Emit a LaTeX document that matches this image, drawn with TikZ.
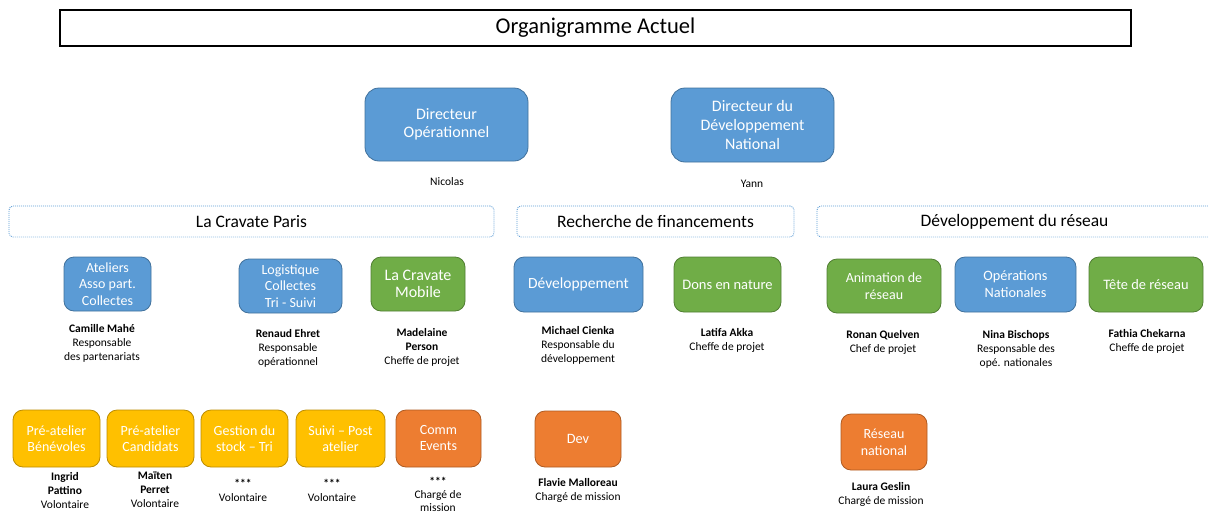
\documentclass[tikz,border=0pt]{standalone}
\usepackage{fontspec}
\setmainfont{Carlito}
\definecolor{cblue}{HTML}{5B9BD5}
\definecolor{cblueD}{HTML}{41719C}
\definecolor{cgreen}{HTML}{70AD47}
\definecolor{cgreenD}{HTML}{507E32}
\definecolor{cyel}{HTML}{FFC000}
\definecolor{cyelD}{HTML}{BC8C00}
\definecolor{corg}{HTML}{ED7D31}
\definecolor{corgD}{HTML}{AE5A21}
\tikzset{
  boxbase/.style={draw, line width=0.8pt, rounded corners=10pt, align=center, text=white, inner sep=1pt},
  bluebox/.style={boxbase, fill=cblue, draw=cblueD},
  greenbox/.style={boxbase, fill=cgreen, draw=cgreenD},
  yelbox/.style={boxbase, fill=cyel, draw=cyelD},
  orgbox/.style={boxbase, fill=corg, draw=corgD},
  capt/.style={align=center, text=black, inner sep=0pt, font=\fontsize{11.5}{14}\selectfont},
  grp/.style={draw=cblue, dash pattern=on 0.9pt off 1.1pt, line width=0.9pt, rounded corners=4pt, inner sep=0pt, font=\fontsize{17.5}{20}\selectfont},
}
\begin{document}
\begin{tikzpicture}[x=1pt,y=-1pt]
\useasboundingbox (0,0) rectangle (1208,512);
% title
\node[draw=black, line width=1.2pt, minimum width=1071, minimum height=36, inner sep=0pt, font=\fontsize{22.5}{25}\selectfont] (title) at (595.5,28) {Organigramme Actuel};
% directors
\node[bluebox, rounded corners=14pt, minimum width=163, minimum height=73, font=\fontsize{16}{18.5}\selectfont] (dirop) at (446.5,124.5) {Directeur\\Opérationnel};
\node[bluebox, rounded corners=14pt, minimum width=163, minimum height=74, font=\fontsize{16}{19}\selectfont] (dirdev) at (752.5,125) {Directeur du\\Développement\\National};
\node[capt] (nicolas) at (447,182) {Nicolas};
\node[capt] (yann) at (752,184) {Yann};
% groups
\node[grp, minimum width=485, minimum height=31] (gparis) at (251.5,221.5) {La Cravate Paris};
\node[grp, minimum width=277, minimum height=31] (gfin) at (655.5,221.5) {Recherche de financements};
\node[grp, minimum width=395, minimum height=31] (gres) at (1014.5,221.5) {Développement du réseau};
% row 2
\node[bluebox, minimum width=87, minimum height=54, font=\fontsize{14}{16.5}\selectfont] (ateliers) at (107.5,284) {Ateliers\\Asso part.\\Collectes};
\node[bluebox, minimum width=103, minimum height=54, font=\fontsize{14}{16.5}\selectfont] (logist) at (290.5,286) {Logistique\\Collectes\\Tri - Suivi};
\node[greenbox, minimum width=94, minimum height=54, font=\fontsize{16}{16.5}\selectfont] (mobile) at (418,284) {La Cravate\\Mobile};
\node[bluebox, minimum width=129, minimum height=55, font=\fontsize{15.5}{17}\selectfont] (devt) at (578.5,284.5) {Développement};
\node[greenbox, minimum width=107, minimum height=55, font=\fontsize{14.5}{17}\selectfont] (dons) at (727.5,284.5) {Dons en nature};
\node[greenbox, minimum width=114, minimum height=54, font=\fontsize{14}{16.5}\selectfont] (anim) at (884,286) {Animation de\\réseau};
\node[bluebox, minimum width=121, minimum height=55, font=\fontsize{14.3}{17}\selectfont] (opnat) at (1015.5,284.5) {Opérations\\Nationales};
\node[greenbox, minimum width=114, minimum height=55, font=\fontsize{14.4}{17}\selectfont] (tete) at (1146,284.5) {Tête de réseau};
% row 2 captions
\node[capt] (c1) at (102,343) {\textbf{Camille Mahé}\\Responsable\\des partenariats};
\node[capt] (c2) at (288,348) {\textbf{Renaud Ehret}\\Responsable\\opérationnel};
\node[capt] (c3) at (422,347) {\textbf{Madelaine}\\\textbf{Person}\\Cheffe de projet};
\node[capt] (c4) at (578,345.5) {\textbf{Michael Cienka}\\Responsable du\\développement};
\node[capt] (c5) at (727,340) {\textbf{Latifa Akka}\\Cheffe de projet};
\node[capt] (c6) at (883,342) {\textbf{Ronan Quelven}\\Chef de projet};
\node[capt] (c7) at (1016,349) {\textbf{Nina Bischops}\\Responsable des\\opé. nationales};
\node[capt] (c8) at (1147,341) {\textbf{Fathia Chekarna}\\Cheffe de projet};
% row 3
\node[yelbox, minimum width=87, minimum height=57, font=\fontsize{14}{16}\selectfont] (preben) at (56.5,438.5) {Pré-atelier\\Bénévoles};
\node[yelbox, minimum width=87, minimum height=57, font=\fontsize{14}{16}\selectfont] (precand) at (150.5,438.5) {Pré-atelier\\Candidats};
\node[yelbox, minimum width=87, minimum height=57, font=\fontsize{14}{16}\selectfont] (gestion) at (244.5,438.5) {Gestion du\\stock -- Tri};
\node[yelbox, minimum width=89, minimum height=57, font=\fontsize{14}{16}\selectfont] (suivi) at (340.5,438.5) {Suivi -- Post\\atelier};
\node[orgbox, minimum width=85, minimum height=57, font=\fontsize{14}{16}\selectfont] (comm) at (438.5,438.5) {Comm\\Events};
\node[orgbox, minimum width=86, minimum height=56, font=\fontsize{14.3}{16}\selectfont] (dev) at (578,439) {Dev};
\node[orgbox, minimum width=86, minimum height=56, font=\fontsize{14}{17}\selectfont] (resnat) at (884,442) {Réseau\\national};
% row 3 captions
\node[capt] (d1) at (65,490) {\textbf{Ingrid}\\\textbf{Pattino}\\Volontaire};
\node[capt] (d2) at (155,490) {\textbf{Maïten}\\\textbf{Perret}\\Volontaire};
\node[capt] (d3) at (243,490) {\textbf{***}\\Volontaire};
\node[capt] (d4) at (332,490) {\textbf{***}\\Volontaire};
\node[capt, font=\fontsize{11.5}{13}\selectfont] (d5) at (438,494) {\textbf{***}\\Chargé de\\mission};
\node[capt] (d6) at (578,490) {\textbf{Flavie Malloreau}\\Chargé de mission};
\node[capt] (d7) at (881,494) {\textbf{Laura Geslin}\\Chargé de mission};
\end{tikzpicture}
\end{document}
